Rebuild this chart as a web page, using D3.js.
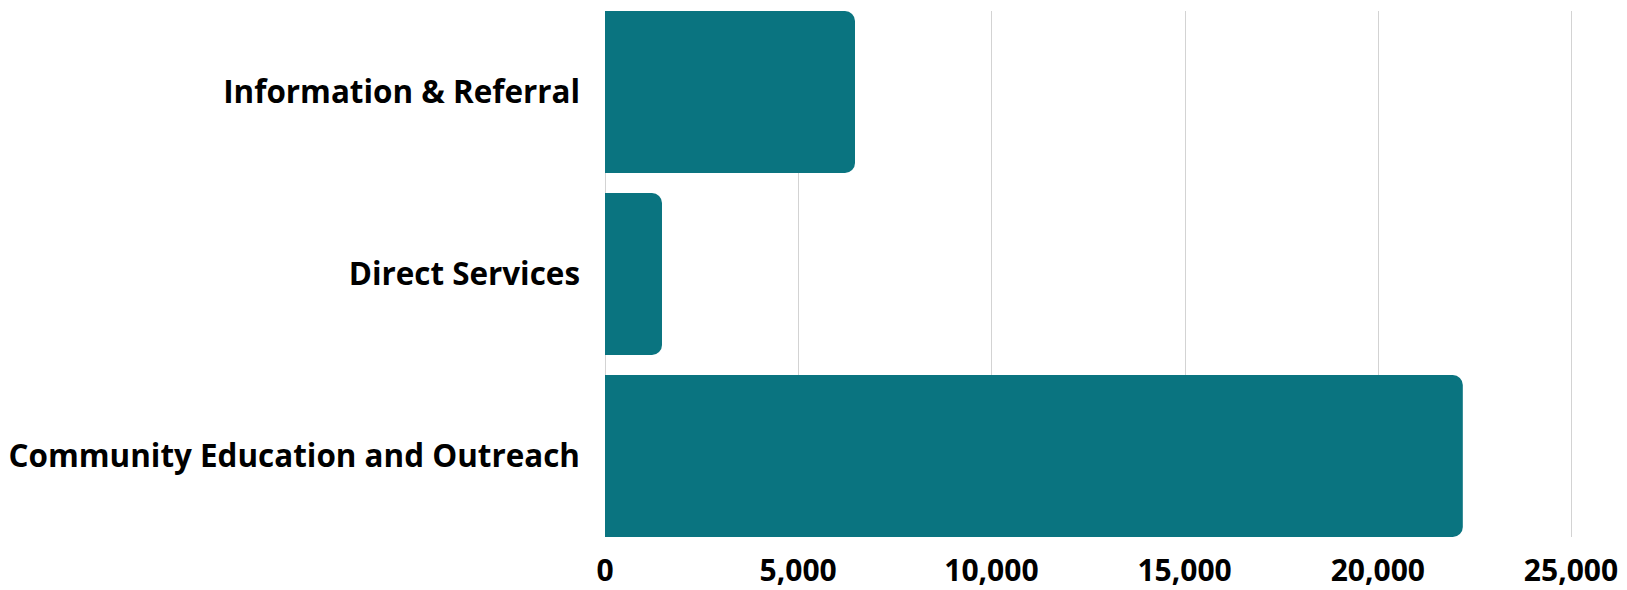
<!DOCTYPE html>
<html>
<head>
<meta charset="utf-8">
<script src="https://cdn.jsdelivr.net/npm/d3@7"></script>
<style>
  html, body { margin: 0; padding: 0; background: #fff; }
  svg { display: block; }
</style>
</head>
<body>
<div id="chart"></div>
<script>
const categories = ["Information & Referral", "Direct Services", "Community Education and Outreach"];
const values = [6470, 1475, 22200];
const tickValues = [0, 5000, 10000, 15000, 20000, 25000];

const width = 1627, height = 590;
const margin = { top: 11, right: 56, bottom: 53, left: 605 };
const innerWidth = width - margin.left - margin.right;
const innerHeight = height - margin.top - margin.bottom;
const barColor = "#0a7480";
const font = "'Open Sans', 'Noto Sans', sans-serif";

const svg = d3.select("#chart").append("svg")
    .attr("width", width)
    .attr("height", height)
    .attr("viewBox", `0 0 ${width} ${height}`);

const g = svg.append("g").attr("transform", `translate(${margin.left}, ${margin.top})`);

const data = categories.map((c, i) => ({ label: c, value: values[i] }));

// Escalas
const x = d3.scaleLinear().domain([0, 25000]).range([0, innerWidth]);
const y = d3.scaleBand().domain(categories).range([0, innerHeight]).paddingInner(0.11).paddingOuter(0);

// grid
g.selectAll(".grid")
    .data(tickValues).enter().append("line")
    .attr("x1", d => Math.round(x(d)) + 0.5)
    .attr("x2", d => Math.round(x(d)) + 0.5)
    .attr("y1", 0)
    .attr("y2", innerHeight)
    .attr("stroke", "#d3d3d3")
    .attr("stroke-width", 1);

// bars, right corners rounded
const r = 10;
function barPath(d) {
    const w = x(d.value), t = y(d.label), h = y.bandwidth();
    return `M0,${t} H${w - r} A${r},${r} 0 0 1 ${w},${t + r} V${t + h - r} A${r},${r} 0 0 1 ${w - r},${t + h} H0 Z`;
}
g.selectAll(".bar")
    .data(data).enter().append("path")
    .attr("d", barPath)
    .attr("fill", barColor);

// category labels
g.selectAll(".label")
    .data(data).enter().append("text")
    .attr("x", -25)
    .attr("y", d => y(d.label) + y.bandwidth() / 2)
    .attr("dy", "0.35em")
    .attr("text-anchor", "end")
    .style("font-family", font)
    .style("font-weight", 700)
    .style("font-size", "31.4px")
    .attr("fill", "#000")
    .text(d => d.label);

// x axis labels
const fmt = d3.format(",");
g.selectAll(".tick-label")
    .data(tickValues).enter().append("text")
    .attr("x", d => x(d))
    .attr("y", innerHeight + 44)
    .attr("text-anchor", "middle")
    .style("font-family", font)
    .style("font-weight", 700)
    .style("font-size", "30px")
    .attr("fill", "#000")
    .text(d => fmt(d));
</script>
</body>
</html>
